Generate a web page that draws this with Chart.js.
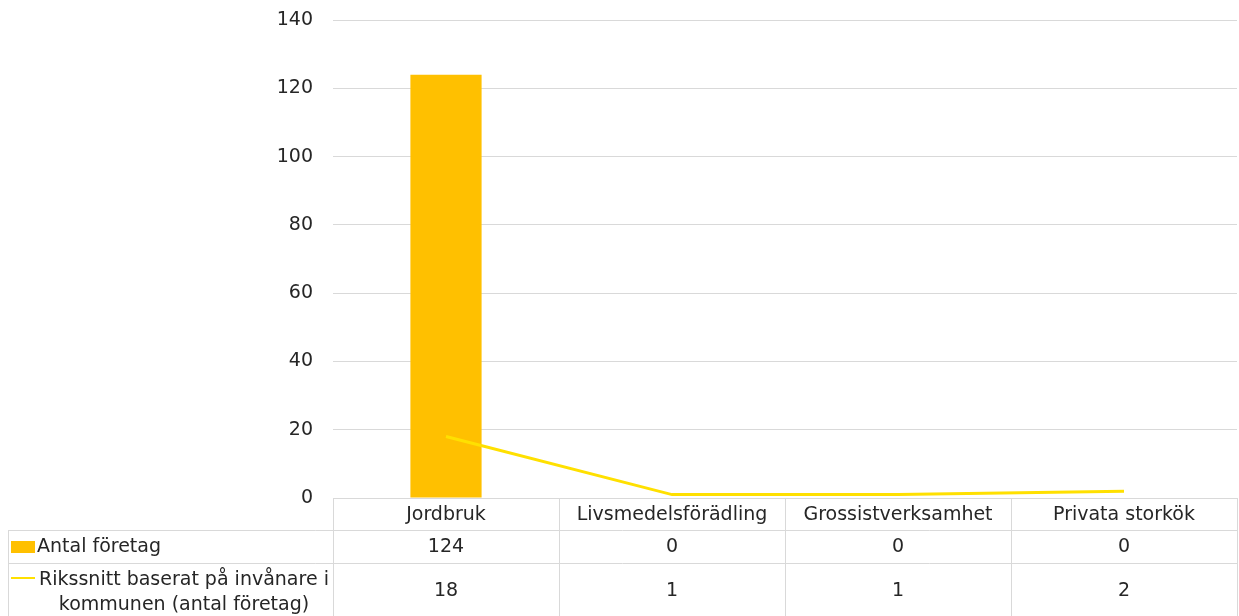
<!DOCTYPE html>
<html>
<head>
<meta charset="utf-8">
<script src="https://cdn.jsdelivr.net/npm/chart.js@4"></script>
<style>
  body { margin: 0; background: #fff; }
  #wrap { width: 1239px; height: 616px; }
</style>
</head>
<body>
<div id="wrap"><canvas id="foretagChart"></canvas></div>
<script>
const categories = ['Jordbruk', 'Livsmedelsförädling', 'Grossistverksamhet', 'Privata storkök'];
const antalForetag = [124, 0, 0, 0];
const rikssnitt = [18, 1, 1, 2];
const yTicks = [0, 20, 40, 60, 80, 100, 120, 140];

const barLabel = 'Antal företag';
const lineLabelLines = ['Rikssnitt baserat på invånare i', 'kommunen (antal företag)'];

const FONT = '"DejaVu Sans", Verdana, sans-serif';
const TEXT = '#262626';
const GRID = '#d9d9d9';
const BAR = '#FFC000';
const LINE = '#FFE000';

// draws the Excel-style data table under the plot
const dataTable = {
  id: 'dataTable',
  afterDraw(chart) {
    const ctx = chart.ctx;
    const x = chart.scales.x;
    const area = chart.chartArea;
    const top = area.bottom;
    const row1 = top + 32, row2 = row1 + 33, bottom = chart.height;
    const leftEdge = 8;
    const n = categories.length;
    const step = (area.right - area.left) / n;

    ctx.save();
    ctx.strokeStyle = GRID;
    ctx.lineWidth = 1;
    ctx.beginPath();
    ctx.moveTo(area.left, top + 0.5); ctx.lineTo(area.right, top + 0.5);
    ctx.moveTo(leftEdge, row1 + 0.5); ctx.lineTo(area.right, row1 + 0.5);
    ctx.moveTo(leftEdge, row2 + 0.5); ctx.lineTo(area.right, row2 + 0.5);
    for (let i = 0; i <= n; i++) {
      const vx = Math.round(area.left + i * step) + 0.5;
      ctx.moveTo(vx, top); ctx.lineTo(vx, bottom);
    }
    ctx.moveTo(leftEdge + 0.5, row1); ctx.lineTo(leftEdge + 0.5, bottom);
    ctx.stroke();

    ctx.fillStyle = TEXT;
    ctx.font = '19px ' + FONT;
    ctx.textAlign = 'center';
    ctx.textBaseline = 'middle';
    categories.forEach((c, i) => {
      const cx = x.getPixelForValue(i);
      ctx.fillText(c, cx, top + 17);
      ctx.fillText(String(antalForetag[i]), cx, row1 + 17);
      ctx.fillText(String(rikssnitt[i]), cx, row2 + 28);
    });

    // row headers with legend keys
    ctx.fillStyle = BAR;
    ctx.fillRect(11, row1 + 11, 24, 12);
    ctx.fillStyle = TEXT;
    ctx.textAlign = 'left';
    ctx.fillText(barLabel, 37, row1 + 17);

    ctx.strokeStyle = LINE;
    ctx.lineWidth = 2;
    ctx.beginPath();
    ctx.moveTo(11, row2 + 15); ctx.lineTo(35, row2 + 15);
    ctx.stroke();
    ctx.textAlign = 'center';
    ctx.fillText(lineLabelLines[0], 184, row2 + 17);
    ctx.fillText(lineLabelLines[1], 184, row2 + 42);
    ctx.restore();
  }
};

new Chart(document.getElementById('foretagChart').getContext('2d'), {
  type: 'bar',
  data: {
    labels: categories,
    datasets: [
      {
        type: 'line',
        label: lineLabelLines.join(' '),
        data: rikssnitt,
        borderColor: LINE,
        backgroundColor: LINE,
        borderWidth: 3,
        pointRadius: 0,
        tension: 0,
        order: 0
      },
      {
        label: barLabel,
        data: antalForetag,
        backgroundColor: BAR,
        barPercentage: 1,
        categoryPercentage: 0.315,
        order: 1
      }
    ]
  },
  options: {
    responsive: true,
    maintainAspectRatio: false,
    animation: false,
    layout: { padding: { top: 20, right: 2, bottom: 118, left: 0 } },
    plugins: {
      legend: { display: false },
      tooltip: { enabled: false }
    },
    scales: {
      x: { display: false },
      y: {
        min: 0,
        max: 140,
        afterFit(scale) {
          scale.width = 333;
          scale.paddingTop = 0;
          scale.paddingBottom = 0;
        },
        afterBuildTicks(scale) { scale.ticks = yTicks.map(v => ({ value: v })); },
        border: { display: false },
        grid: { color: GRID, drawTicks: false },
        ticks: {
          padding: 20,
          color: TEXT,
          font: { family: FONT, size: 19 }
        }
      }
    }
  },
  plugins: [dataTable]
});
</script>
</body>
</html>
